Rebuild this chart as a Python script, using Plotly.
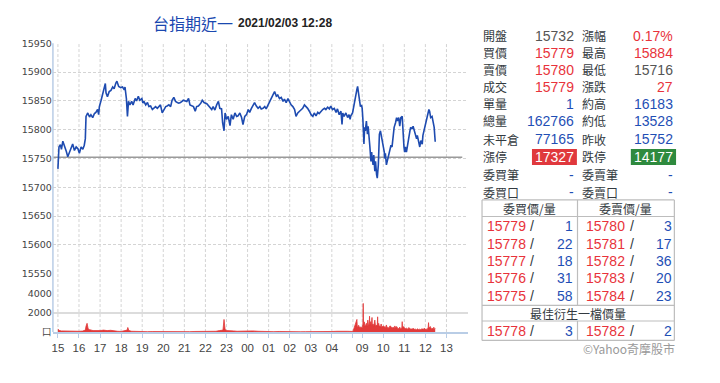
import plotly.graph_objects as go

W, H = 720, 383

# ---------------- data ----------------
price_times = [
    "15:00","15:03","15:07","15:10","15:14","15:19","15:24","15:28","15:33","15:38","15:42","15:47","15:52","15:57",
    "16:01","16:06","16:11","16:15","16:18","16:20","16:25","16:30","16:34","16:39","16:44","16:48","16:53","16:56","16:58",
    "17:03","17:07","17:12","17:15","17:17","17:21","17:26","17:31","17:36","17:40","17:45","17:48","17:53","17:59",
    "18:04","18:09","18:11","18:13","18:15","18:18","18:21","18:25","18:30","18:34","18:40","18:44","18:49","18:53","18:59",
    "19:02","19:05","19:10","19:15","19:19","19:24","19:29","19:34","19:38","19:43","19:48","19:52","19:57",
    "20:02","20:07","20:11","20:16","20:21","20:25","20:30","20:35","20:40","20:44","20:49","20:57",
    "21:07","21:12","21:16","21:26","21:31","21:35","21:40","21:47","21:51","21:56",
    "22:04","22:11","22:18","22:22","22:27","22:32","22:37","22:41","22:46","22:49","22:53","22:56",
    "23:00","23:05","23:10","23:14","23:19","23:24","23:29","23:33","23:38","23:43","23:47","23:52","23:57",
    "00:02","00:06","00:11","00:16","00:20","00:25","00:30","00:35","00:39","00:44","00:49","00:53","00:58",
    "01:03","01:08","01:12","01:17","01:22","01:26","01:31","01:36","01:41","01:45","01:50","01:55","01:59",
    "02:04","02:09","02:14","02:18","02:23","02:28","02:32","02:37","02:42","02:47","02:51","02:56",
    "03:01","03:06","03:10","03:15","03:20","03:24","03:29","03:34","03:39","03:43","03:48","03:53","03:57",
    "04:02","04:07","04:12","04:16","04:21","04:26","04:29","04:31","04:35","04:40","04:45","04:49","04:52","04:54","04:59",
    "08:45","08:47","08:49","08:51","08:53","08:55","08:58","09:00","09:02","09:05","09:07","09:09","09:12","09:15",
    "09:17","09:19","09:22","09:25","09:27","09:28","09:31","09:33","09:36","09:38","09:41","09:43","09:46","09:47",
    "09:49","09:52","09:55","09:57","10:00","10:03","10:04","10:06","10:09","10:12","10:16","10:19","10:22","10:25",
    "10:28","10:31","10:35","10:38","10:40","10:44","10:47","10:50","10:54","10:57","10:59","11:01","11:03","11:06",
    "11:09","11:13","11:16","11:18","11:22","11:25","11:28","11:32","11:35","11:37","11:41","11:44","11:47","11:51",
    "11:53","11:56","12:00","12:03","12:06","12:10","12:12","12:15","12:19","12:22","12:25","12:28",
]
price_values = [
    15732,15770,15774,15766,15780,15772,15762,15753,15762,15768,15775,15764,15770,15767,
    15759,15770,15766,15773,15784,15823,15829,15822,15826,15821,15828,15830,15835,15826,15840,
    15851,15862,15877,15880,15864,15857,15866,15868,15874,15871,15881,15884,15875,15873,
    15874,15869,15874,15866,15854,15823,15849,15843,15849,15843,15854,15850,15858,15851,15854,
    15846,15849,15843,15847,15840,15841,15835,15837,15840,15837,15841,15843,15829,
    15835,15840,15841,15843,15840,15851,15856,15849,15847,15846,15847,15851,
    15849,15854,15843,15840,15832,15840,15841,15846,15851,15847,
    15845,15840,15835,15840,15834,15843,15849,15837,15836,15812,15798,15829,
    15818,15823,15807,15826,15818,15829,15823,15824,15829,15821,15809,15823,15826,
    15835,15830,15837,15843,15847,15841,15837,15840,15836,15837,15840,15836,15843,
    15849,15854,15860,15866,15858,15860,15854,15856,15849,15853,15847,15854,15849,
    15843,15840,15835,15823,15829,15832,15835,15837,15843,15840,15837,15832,
    15826,15823,15829,15824,15830,15828,15832,15835,15837,15835,15839,15836,15841,
    15835,15837,15830,15836,15826,15832,15809,15829,15823,15829,15821,15826,15818,15824,15829,
    15870,15875,15866,15857,15851,15840,15843,15837,15818,15775,15804,15798,15815,15792,
    15806,15784,15770,15745,15761,15753,15739,15756,15728,15745,15722,15716,15739,15767,
    15792,15798,15787,15784,15770,15761,15750,15759,15739,15747,15756,15767,15773,15770,
    15784,15804,15812,15821,15815,15821,15806,15821,15823,15784,15770,15761,15770,15761,
    15775,15790,15798,15804,15801,15806,15798,15792,15784,15790,15778,15770,15781,15775,
    15790,15798,15806,15815,15823,15835,15832,15821,15823,15812,15804,15779,
]

vol_times = [
    "15:00","15:05","15:10","15:20","15:30","15:40","15:50","16:00","16:10","16:18","16:20","16:23","16:26","16:30",
    "16:40","16:50","17:00","17:10","17:20","17:30","17:40","17:50","18:00","18:10","18:17","18:19","18:22","18:30",
    "18:45","19:00","19:15","19:30","19:45","20:00","20:15","20:30","20:45","21:00","21:15","21:30","21:45","22:00",
    "22:15","22:30","22:40","22:50","22:53","22:56","23:00","23:10","23:20","23:30","23:45","00:00","00:15","00:30",
    "00:45","01:00","01:15","01:30","01:45","02:00","02:15","02:30","02:45","03:00","03:15","03:30","03:45","04:00",
    "04:15","04:30","04:45","05:00",
    "08:45","08:46","08:48","08:50","08:52","08:54","08:56","08:58","09:00","09:02","09:03","09:04","09:06","09:08",
    "09:10","09:12","09:14","09:16","09:18","09:20","09:21","09:22","09:24","09:26","09:28","09:29","09:31","09:33",
    "09:36","09:38","09:41","09:43","09:44","09:45","09:47","09:49","09:50","09:52","09:54","09:56","10:00","10:03",
    "10:06","10:09","10:11","10:13","10:16","10:19","10:22","10:25","10:28","10:31","10:33","10:36","10:38","10:41",
    "10:44","10:47","10:50","10:53","10:54","10:55","10:57","11:00","11:03","11:06","11:10","11:13","11:16","11:19",
    "11:22","11:25","11:28","11:32","11:35","11:38","11:41","11:44","11:47","11:50","11:54","11:57","12:00","12:03",
    "12:06","12:08","12:09","12:10","12:14","12:17","12:19","12:22","12:24","12:26","12:28",
]
vol_values = [
    300,150,120,100,110,90,100,80,100,200,600,900,350,250,
    150,120,150,200,150,180,100,80,60,100,200,470,150,80,
    50,60,40,50,40,60,40,50,40,50,40,60,50,40,
    60,80,150,200,1300,300,150,100,120,80,100,60,120,80,
    50,60,40,60,40,50,40,30,40,30,30,40,60,60,
    80,100,80,60,
    1300,600,500,700,450,550,400,500,450,800,2950,700,1050,600,
    700,900,600,1230,700,800,1630,700,1070,650,1500,700,830,600,
    1230,600,730,600,1570,600,900,550,630,500,830,500,630,570,
    450,730,400,500,400,630,570,400,500,400,630,400,570,400,
    350,500,350,450,1070,400,570,430,350,400,300,470,300,330,
    280,400,280,300,250,330,250,300,250,330,280,400,280,300,
    300,500,970,400,570,300,400,300,500,300,370,
]

prev_close = 15752
session_end = "13:45"

x_tick_times = ["15:00","16:00","17:00","18:00","19:00","20:00","21:00","22:00","23:00","00:00",
                "01:00","02:00","03:00","04:00","05:00","09:00","10:00","11:00","12:00","13:00"]
x_tick_labels = ["15","16","17","18","19","20","21","22","23","00",
                 "01","02","03","04","","09","10","11","12","13"]
price_ticks = [15550, 15600, 15650, 15700, 15750, 15800, 15850, 15900, 15950]
vol_ticks = [0, 2000, 4000]
vol_ticktext = ["口", "2000", "4000"]

title_name = "台指期近一"
title_time = "2021/02/03 12:28"

left_labels = ["開盤", "買價", "賣價", "成交", "單量", "總量", "未平倉", "漲停", "委買筆", "委買口"]
left_values = ["15732", "15779", "15780", "15779", "1", "162766", "77165", "17327", "-", "-"]
left_kinds = ["gray", "red", "red", "red", "blue", "blue", "blue", "upbox", "blue", "blue"]
right_labels = ["漲幅", "最高", "最低", "漲跌", "約高", "約低", "昨收", "跌停", "委賣筆", "委賣口"]
right_values = ["0.17%", "15884", "15716", "27", "16183", "13528", "15752", "14177", "-", "-"]
right_kinds = ["red", "red", "gray", "red", "blue", "blue", "blue", "downbox", "blue", "blue"]

bid_header = "委買價/量"
ask_header = "委賣價/量"
bid_prices = ["15779", "15778", "15777", "15776", "15775"]
bid_qty = ["1", "22", "18", "31", "58"]
ask_prices = ["15780", "15781", "15782", "15783", "15784"]
ask_qty = ["3", "17", "36", "20", "23"]
best_header = "最佳衍生一檔價量"
best_bid = ("15778", "3")
best_ask = ("15782", "2")
copyright_text = "©Yahoo奇摩股市"

# ---------------- helpers ----------------
GAP = 0.19


def tpos(s):
    hh, mm = map(int, s.split(":"))
    t = hh + mm / 60
    if t >= 15:
        return t - 15
    if t <= 5:
        return t + 9
    return 14 + GAP + (t - 8.75)


def px(x):
    return x / W


def py(y):
    return 1 - y / H


RED = "#e8333b"
BLUE = "#1f4fb5"
GRAY = "#555555"
LABEL = "#333a40"
CJK = "Noto Sans CJK TC"
NUM = "Liberation Sans"
colors = {"red": RED, "blue": BLUE, "gray": GRAY, "upbox": "white", "downbox": "white"}

XR0, XR1 = -0.237, 19.479
TOP, PBOT, VTOP, VBOT = 38.3, 275.7, 295.7, 335.7

fig = go.Figure()

fig.add_trace(go.Scatter(
    x=[XR0, tpos(session_end)], y=[prev_close, prev_close], mode="lines",
    line=dict(color="#9a9a9a", width=1.5), hoverinfo="skip", yaxis="y"))

fig.add_trace(go.Scatter(
    x=[tpos(t) for t in price_times], y=price_values, mode="lines",
    line=dict(color="#1e4bb0", width=1.6), yaxis="y"))

fig.add_trace(go.Scatter(
    x=[tpos(t) for t in vol_times], y=vol_values, mode="lines", fill="tozeroy",
    fillcolor="#e23a3a", line=dict(color="#e23a3a", width=0.8), yaxis="y2"))

shapes = []
for t in x_tick_times:
    xv = tpos(t)
    shapes.append(dict(type="line", xref="x", yref="paper", x0=xv, x1=xv,
                       y0=py(VBOT), y1=py(TOP), layer="below",
                       line=dict(color="#d4d4d4", width=1, dash="3px,2px")))
shapes.append(dict(type="line", xref="paper", yref="paper", x0=px(52), x1=px(52),
                   y0=py(VBOT), y1=py(TOP), line=dict(color="#b9cde6", width=1.5)))

annotations = []
annotations.append(dict(text=title_name, x=px(150), y=py(17), xref="paper", yref="paper",
                        xanchor="left", yanchor="middle", showarrow=False,
                        font=dict(family=CJK, size=16, color="#1a48b0")))
annotations.append(dict(text="<b>" + title_time + "</b>", x=px(235), y=py(18), xref="paper", yref="paper",
                        xanchor="left", yanchor="middle", showarrow=False,
                        font=dict(family="Liberation Sans", size=12, color="#222222")))

rows_y = [30.7, 48.3, 65.8, 83.3, 100.8, 118.4, 137.3, 155.4, 173.5, 191.6]


def txt(s, x, y, anchor, color, size=14, family=NUM):
    annotations.append(dict(text=s, x=px(x), y=py(y), xref="paper", yref="paper",
                            xanchor=anchor, yanchor="middle", showarrow=False,
                            borderpad=0,
                            font=dict(family=family, size=size, color=color)))


for i, y in enumerate(rows_y):
    txt(left_labels[i], 481.5, y, "left", LABEL, 12, CJK)
    txt(right_labels[i], 581, y, "left", LABEL, 12, CJK)
    if left_kinds[i] == "upbox":
        shapes.append(dict(type="rect", xref="paper", yref="paper", x0=px(531.7), x1=px(576.7),
                           y0=py(y + 8.3), y1=py(y - 8.3), fillcolor="#e0383d", line=dict(width=0)))
    if right_kinds[i] == "downbox":
        shapes.append(dict(type="rect", xref="paper", yref="paper", x0=px(630.7), x1=px(676),
                           y0=py(y + 8.3), y1=py(y - 8.3), fillcolor="#2e8a3e", line=dict(width=0)))
    txt(left_values[i], 575, y, "right", colors[left_kinds[i]])
    txt(right_values[i], 674, y, "right", colors[right_kinds[i]])

# order table
TL, TM, TR = 481.7, 577.3, 674.3
border = dict(color="#bdbdbd", width=1.2)
for yb in [199.7, 216.7, 308.3, 324.3, 344.3]:
    shapes.append(dict(type="line", xref="paper", yref="paper", x0=px(TL), x1=px(TR),
                       y0=py(yb), y1=py(yb), line=border))
for xb in [TL, TR]:
    shapes.append(dict(type="line", xref="paper", yref="paper", x0=px(xb), x1=px(xb),
                       y0=py(199.7), y1=py(344.3), line=border))
for (a, b) in [(199.7, 308.3), (324.3, 344.3)]:
    shapes.append(dict(type="line", xref="paper", yref="paper", x0=px(TM), x1=px(TM),
                       y0=py(a), y1=py(b), line=border))

txt(bid_header, (TL + TM) / 2, 208.3, "center", LABEL, 12, CJK)
txt(ask_header, (TM + TR) / 2, 208.3, "center", LABEL, 12, CJK)
table_y = [226.7, 245.0, 262.8, 280.5, 298.3]
for i, y in enumerate(table_y):
    txt(bid_prices[i], 485.5, y, "left", RED)
    txt("/", 532, y, "center", LABEL)
    txt(bid_qty[i], 573.5, y, "right", BLUE)
    txt(ask_prices[i], 585, y, "left", RED)
    txt("/", 632, y, "center", LABEL)
    txt(ask_qty[i], 673, y, "right", BLUE)
txt(best_header, (TL + TR) / 2, 316.7, "center", LABEL, 12, CJK)
txt(best_bid[0], 485.5, 334.3, "left", RED)
txt("/", 532, 334.3, "center", LABEL)
txt(best_bid[1], 573.5, 334.3, "right", BLUE)
txt(best_ask[0], 585, 334.3, "left", RED)
txt("/", 632, 334.3, "center", LABEL)
txt(best_ask[1], 673, 334.3, "right", BLUE)
txt(copyright_text, 676, 353, "right", "#9a9a9a", 12, CJK)

fig.update_layout(
    width=W, height=H, margin=dict(l=0, r=0, t=0, b=0),
    paper_bgcolor="white", plot_bgcolor="white", showlegend=False,
    xaxis=dict(domain=[px(52), px(468)], range=[XR0, XR1], anchor="y2",
               tickvals=[tpos(t) for t in x_tick_times], ticktext=x_tick_labels,
               showgrid=False, zeroline=False, showline=True, linecolor="#b9cde6", linewidth=1.5,
               ticks="outside", ticklen=4, tickcolor="#b9cde6",
               tickfont=dict(family="Liberation Sans", size=11.5, color="#444444")),
    yaxis=dict(domain=[py(PBOT), py(TOP)], range=[15550, 15950], anchor="x",
               tickvals=price_ticks, tickformat="d", showgrid=True, gridcolor="#d4d4d4",
               griddash="3px,2px", zeroline=False, showline=False, ticks="",
               tickfont=dict(family="DejaVu Sans", size=9.5, color="#444444")),
    yaxis2=dict(domain=[py(VBOT), py(VTOP)], range=[0, 4000], anchor="x",
                tickvals=vol_ticks, ticktext=vol_ticktext, showgrid=True, gridcolor="#dcdcdc",
                gridwidth=1.5, zeroline=False, showline=False, ticks="",
                tickfont=dict(family="DejaVu Sans", size=9.5, color="#444444")),
    shapes=shapes, annotations=annotations,
)

fig.write_html("out.html", config={"displayModeBar": False},
               post_script="document.body.style.margin='0';document.body.style.overflow='hidden';")
